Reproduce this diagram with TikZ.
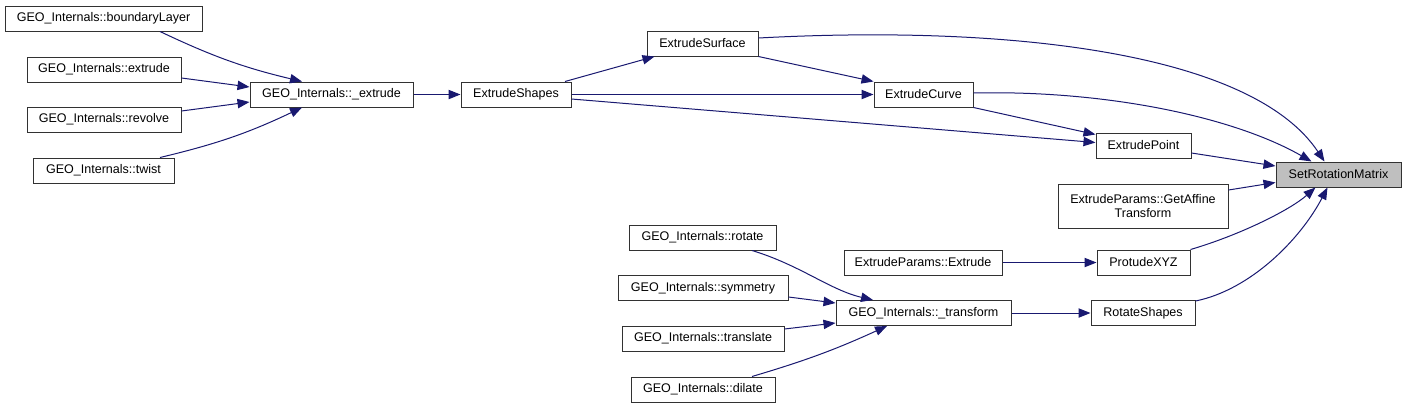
\documentclass[tikz,border=0pt]{standalone}
\usepackage{fontspec}
\setmainfont{Liberation Sans}
\usepackage{xcolor}
\usepackage{tikz}
\usetikzlibrary{arrows.meta, calc}
\definecolor{edgeblue}{RGB}{25,25,112}
\definecolor{boxline}{RGB}{50,50,50}
\definecolor{hilite}{RGB}{191,191,191}
\tikzset{
  fn/.style={
    draw=boxline, fill=white, line width=0.75pt, inner sep=0pt,
    minimum width=#1*0.75pt, minimum height=18.75pt,
    font=\fontsize{9.4}{11}\selectfont, align=center
  },
  target/.style={fill=hilite},
  call/.style={draw=edgeblue, line width=0.75pt,
    -{Triangle[length=9pt, width=7pt]}},
}

\begin{document}
\begin{tikzpicture}[x=0.75pt, y=-0.75pt]
  \useasboundingbox (0,0) rectangle (1407,408);

  % callers of _extrude
  \node[fn=197] (bl)   at (103.5,18.5) {GEO\_Internals::boundaryLayer};
  \node[fn=154] (gex)  at (104,69.5)   {GEO\_Internals::extrude};
  \node[fn=154] (grev) at (104,119.5)  {GEO\_Internals::revolve};
  \node[fn=141] (gtw)  at (103.5,170.5){GEO\_Internals::twist};
  \node[fn=163] (gext) at (331.5,94.5) {GEO\_Internals::\_extrude};

  \node[fn=110] (eshp)   at (516,94.5)    {ExtrudeShapes};
  \node[fn=111] (esurf)  at (702.5,43.5)  {ExtrudeSurface};
  \node[fn=99]  (ecurve) at (923.5,94.5)  {ExtrudeCurve};
  \node[fn=95]  (epoint) at (1143.5,145.5){ExtrudePoint};
  \node[fn=125, target] (srm) at (1338.5,174.5) {SetRotationMatrix};
  \node[fn=170, minimum height=33pt] (affine) at (1143,206)
    {ExtrudeParams::GetAffine\\Transform};
  \node[fn=158] (epext) at (923,262.5)  {ExtrudeParams::Extrude};
  \node[fn=93]  (pxyz)  at (1143.5,262.5) {ProtudeXYZ};

  % callers of _transform
  \node[fn=147] (grot)   at (702.5,237.5) {GEO\_Internals::rotate};
  \node[fn=170] (gsym)   at (703,288)     {GEO\_Internals::symmetry};
  \node[fn=162] (gtr)    at (703,338.5)   {GEO\_Internals::translate};
  \node[fn=144] (gdil)   at (703,389.5)   {GEO\_Internals::dilate};
  \node[fn=175] (gtrans) at (923.5,313)   {GEO\_Internals::\_transform};
  \node[fn=104] (rshp)   at (1143,313)    {RotateShapes};

  \draw[call] ($(bl.south)+(56.5,0)$) to[bend right=6] ($(gext.north)+(-29.5,0)$);
  \draw[call] ($(gex.east)+(0,8.5)$) -- ($(gext.west)+(0,-7.5)$);
  \draw[call] ($(grev.east)+(0,-8.5)$) -- ($(gext.west)+(0,7.5)$);
  \draw[call] ($(gtw.north)+(56.5,0)$) to[bend right=6] ($(gext.south)+(-29.5,0)$);
  \draw[call] (gext) -- (eshp);

  \draw[call] ($(eshp.north)+(49,0)$) -- ($(esurf.south)+(-48,0)$);
  \draw[call] (eshp) -- (ecurve);
  \draw[call] ($(eshp.east)+(0,4.5)$) -- ($(epoint.west)+(0,-3)$);
  \draw[call] (esurf.south east) -- (ecurve.north west);
  \draw[call] ($(esurf.east)+(0,-5.5)$) .. controls (1000,25) and (1250,50) .. ($(srm.north)+(-14,0)$);
  \draw[call] ($(ecurve.east)+(0,-1.5)$) .. controls (1100,90) and (1230,115) .. ($(srm.north)+(-27,0)$);
  \draw[call] (ecurve.south east) -- ($(epoint.north west)+(0,2)$);
  \draw[call] ($(epoint.east)+(0,7.5)$) -- ($(srm.west)+(0,-8.5)$);
  \draw[call] ($(affine.east)+(0,-16)$) -- ($(srm.west)+(0,8)$);
  \draw[call] (epext) -- (pxyz);
  \draw[call] (pxyz.north east) .. controls (1240,235) and (1290,210) .. ($(srm.south)+(-23,0)$);
  \draw[call] ($(rshp.north east)+(0,1)$) .. controls (1250,290) and (1300,240) .. ($(srm.south)+(-11,0)$);

  \draw[call] ($(grot.south)+(49.5,0)$) .. controls (800,265) and (830,290) .. ($(gtrans.north)+(-50.5,0)$);
  \draw[call] ($(gsym.east)+(0,9)$) -- ($(gtrans.west)+(0,-10)$);
  \draw[call] ($(gtr.east)+(0,-9.5)$) -- ($(gtrans.west)+(0,10)$);
  \draw[call] ($(gdil.north)+(49,0)$) to[bend right=4] ($(gtrans.south)+(-36.5,0)$);
  \draw[call] (gtrans) -- (rshp);
\end{tikzpicture}
\end{document}
